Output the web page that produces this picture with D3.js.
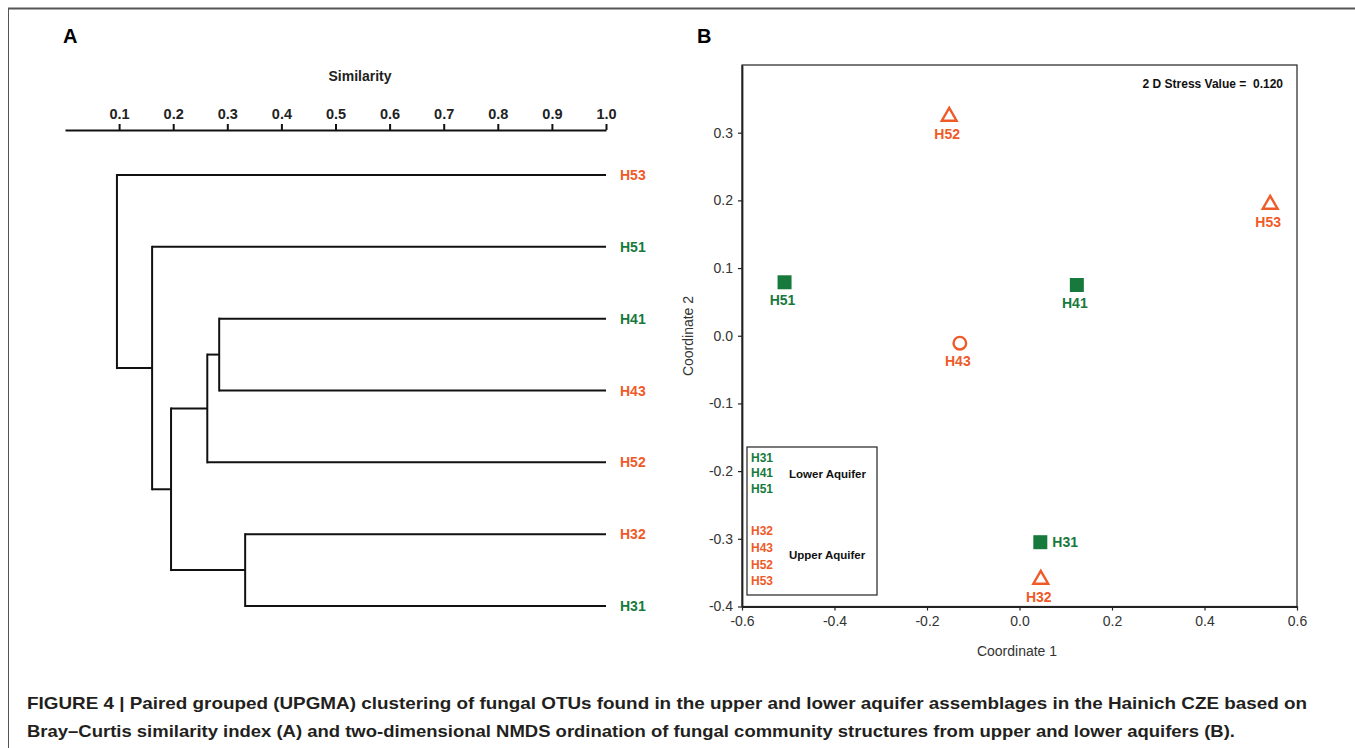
<!DOCTYPE html>
<html>
<head>
<meta charset="utf-8">
<script src="https://cdn.jsdelivr.net/npm/d3@7"></script>
<style>
  body { margin: 0; background: #fff; }
  text { font-family: "Liberation Sans", Arial, sans-serif; }
</style>
</head>
<body>
<div id="chart"></div>
<script>
// ---- data ----
// dendrogram (panel A): leaves top to bottom, and merge nodes
const leafNames = ['H53', 'H51', 'H41', 'H43', 'H52', 'H32', 'H31'];
const nodeNames = ['n1', 'n2', 'n3', 'n4', 'n5', 'n6'];
const nodeChildren = [
    ['H53', 'n2'],
    ['H51', 'n3'],
    ['n4', 'n6'],
    ['n5', 'H52'],
    ['H41', 'H43'],
    ['H32', 'H31']
];
const nodeSimilarity = [0.096, 0.161, 0.196, 0.263, 0.285, 0.333];
const simTicks = [0.1, 0.2, 0.3, 0.4, 0.5, 0.6, 0.7, 0.8, 0.9, 1.0];
const simTickLabels = ['0.1', '0.2', '0.3', '0.4', '0.5', '0.6', '0.7', '0.8', '0.9', '1.0'];

// aquifer membership
const lowerAquifer = ['H31', 'H41', 'H51'];
const upperAquifer = ['H32', 'H43', 'H52', 'H53'];

// NMDS (panel B)
const nmdsNames = ['H52', 'H53', 'H51', 'H41', 'H43', 'H31', 'H32'];
const nmdsX = [-0.152, 0.542, -0.508, 0.124, -0.129, 0.045, 0.046];
const nmdsY = [0.324, 0.194, 0.079, 0.075, -0.011, -0.305, -0.360];
const nmdsShape = ['triangle', 'triangle', 'square', 'square', 'circle', 'square', 'triangle'];
const nmdsLabelSide = ['below', 'below', 'below', 'below', 'below', 'right', 'below'];
const xTicks = [-0.6, -0.4, -0.2, 0.0, 0.2, 0.4, 0.6];
const xTickLabels = ['-0.6', '-0.4', '-0.2', '0.0', '0.2', '0.4', '0.6'];
const yTicks = [-0.4, -0.3, -0.2, -0.1, 0.0, 0.1, 0.2, 0.3];
const yTickLabels = ['-0.4', '-0.3', '-0.2', '-0.1', '0.0', '0.1', '0.2', '0.3'];
const stressValue = '0.120';

const orange = '#ef5a29';
const green = '#18793d';
const colorOf = name => lowerAquifer.includes(name) ? green : orange;

const width = 1355;
const height = 748;

const svg = d3.select('#chart')
    .append('svg')
    .attr('width', width)
    .attr('height', height);

// outer frame (top + left edge only)
svg.append('line')
    .attr('x1', 8).attr('x2', width)
    .attr('y1', 8.5).attr('y2', 8.5)
    .attr('stroke', '#555').attr('stroke-width', 2);
svg.append('line')
    .attr('x1', 8.5).attr('x2', 8.5)
    .attr('y1', 8).attr('y2', height)
    .attr('stroke', '#555').attr('stroke-width', 1);

// panel letters
svg.append('text').text('A')
    .attr('x', 63).attr('y', 43)
    .attr('font-size', 20).attr('font-weight', 'bold');
svg.append('text').text('B')
    .attr('x', 697).attr('y', 43)
    .attr('font-size', 20).attr('font-weight', 'bold');

// ---------------- Panel A: dendrogram ----------------
const sim_scale = d3.scaleLinear()
    .domain([0, 1])
    .range([65, 606]);

const axisA = svg.append('g')
    .attr('transform', 'translate(0,130)')
    .call(d3.axisTop(sim_scale)
        .tickValues(simTicks)
        .tickFormat((d, i) => simTickLabels[i])
        .tickSize(6)
        .tickSizeOuter(0)
        .tickPadding(5));
axisA.select('.domain').attr('stroke', '#111').attr('stroke-width', 2);
axisA.selectAll('.tick line').attr('stroke', '#111').attr('stroke-width', 2);
axisA.selectAll('.tick text')
    .attr('font-size', 14.5)
    .attr('font-weight', 'bold')
    .attr('fill', '#222')
    .attr('font-family', '"Liberation Sans", Arial, sans-serif');

svg.append('text').text('Similarity')
    .attr('x', 360).attr('y', 81)
    .attr('text-anchor', 'middle')
    .attr('font-size', 14).attr('font-weight', 'bold').attr('fill', '#222');

// build tree
function buildNode(name) {
    const i = nodeNames.indexOf(name);
    if (i < 0) return { name: name, sim: 1.0 };
    return { name: name, sim: nodeSimilarity[i], children: nodeChildren[i].map(buildNode) };
}
const root = d3.hierarchy(buildNode('n1'));
d3.cluster()
    .nodeSize([1, 1])
    .separation(() => 1)(root);

// stretch leaf spacing so first leaf sits at y=175 and last at y=606
const leafExtent = d3.extent(root.leaves(), d => d.x);
const row_scale = d3.scaleLinear().domain(leafExtent).range([175, 606]);
const leaf_y = d => row_scale(d.x);

const links = svg.append('g')
    .attr('fill', 'none')
    .attr('stroke', '#111')
    .attr('stroke-width', 2);

root.descendants().filter(d => d.children).forEach(d => {
    const px = sim_scale(d.data.sim);
    // vertical connector
    links.append('line')
        .attr('x1', px).attr('x2', px)
        .attr('y1', leaf_y(d.children[0])).attr('y2', leaf_y(d.children[d.children.length - 1]))
        .attr('stroke-linecap', 'square');
    // horizontal branches to children
    d.children.forEach(c => {
        links.append('line')
            .attr('x1', px).attr('x2', sim_scale(c.data.sim))
            .attr('y1', leaf_y(c)).attr('y2', leaf_y(c));
    });
});

svg.selectAll('.leaf-label')
    .data(root.leaves())
    .enter()
    .append('text')
    .attr('class', 'leaf-label')
    .text(d => d.data.name)
    .attr('x', 620)
    .attr('y', d => leaf_y(d) + 5)
    .attr('font-size', 14)
    .attr('font-weight', 'bold')
    .attr('fill', d => colorOf(d.data.name));

// ---------------- Panel B: NMDS ----------------
const x_scale = d3.scaleLinear().domain([-0.6, 0.6]).range([742, 1297]);
const y_scale = d3.scaleLinear().domain([-0.4, 0.4]).range([606.5, 65]);

// frame
svg.append('rect')
    .attr('x', 742).attr('y', 65)
    .attr('width', 1297 - 742).attr('height', 606.5 - 65)
    .attr('fill', 'none').attr('stroke', '#222').attr('stroke-width', 1.2);

const xAxis = svg.append('g')
    .attr('transform', 'translate(0,606.5)')
    .call(d3.axisBottom(x_scale)
        .tickValues(xTicks)
        .tickFormat((d, i) => xTickLabels[i])
        .tickSize(4)
        .tickSizeOuter(0)
        .tickPadding(6));
const yAxis = svg.append('g')
    .attr('transform', 'translate(742,0)')
    .call(d3.axisLeft(y_scale)
        .tickValues(yTicks)
        .tickFormat((d, i) => yTickLabels[i])
        .tickSize(4)
        .tickSizeOuter(0)
        .tickPadding(5));
[xAxis, yAxis].forEach(ax => {
    ax.select('.domain').attr('stroke', '#222').attr('stroke-width', 1.8);
    ax.selectAll('.tick line').attr('stroke', '#222').attr('stroke-width', 1.2);
    ax.selectAll('.tick text')
        .attr('font-size', 14)
        .attr('fill', '#333')
        .attr('font-family', '"Liberation Sans", Arial, sans-serif');
});

svg.append('text').text('Coordinate 1')
    .attr('x', 1017).attr('y', 656)
    .attr('text-anchor', 'middle')
    .attr('font-size', 14).attr('fill', '#333');
svg.append('text').text('Coordinate 2')
    .attr('transform', 'translate(693,336) rotate(-90)')
    .attr('text-anchor', 'middle')
    .attr('font-size', 14).attr('fill', '#333');

svg.append('text').text('2 D Stress Value =  ' + stressValue)
    .attr('x', 1283).attr('y', 88)
    .attr('text-anchor', 'end')
    .attr('xml:space', 'preserve')
    .attr('font-size', 12).attr('font-weight', 'bold').attr('fill', '#111');

const points = nmdsNames.map((n, i) => ({
    name: n, x: nmdsX[i], y: nmdsY[i], shape: nmdsShape[i], side: nmdsLabelSide[i]
}));

const symbolFor = {
    square: d3.symbol().type(d3.symbolSquare).size(196),
    triangle: d3.symbol().type(d3.symbolTriangle).size(95),
    circle: d3.symbol().type(d3.symbolCircle).size(Math.PI * 6.3 * 6.3)
};

svg.selectAll('.pt')
    .data(points)
    .enter()
    .append('path')
    .attr('class', 'pt')
    .attr('d', d => symbolFor[d.shape]())
    .attr('transform', d => 'translate(' + x_scale(d.x) + ',' + y_scale(d.y) + ')')
    .attr('fill', d => d.shape === 'square' ? colorOf(d.name) : 'none')
    .attr('stroke', d => d.shape === 'square' ? 'none' : colorOf(d.name))
    .attr('stroke-width', 2.4);

svg.selectAll('.pt-label')
    .data(points)
    .enter()
    .append('text')
    .attr('class', 'pt-label')
    .text(d => d.name)
    .attr('x', d => d.side === 'right' ? x_scale(d.x) + 12 : x_scale(d.x) - 2)
    .attr('y', d => d.side === 'right' ? y_scale(d.y) + 5 : y_scale(d.y) + 23)
    .attr('text-anchor', d => d.side === 'right' ? 'start' : 'middle')
    .attr('font-size', 14)
    .attr('font-weight', 'bold')
    .attr('fill', d => colorOf(d.name));

// legend box
svg.append('rect')
    .attr('x', 747).attr('y', 447)
    .attr('width', 130).attr('height', 148)
    .attr('fill', '#fff').attr('stroke', '#222').attr('stroke-width', 1.2);

const legendLowerY = [457, 472, 488];
const legendUpperY = [530, 547, 564, 580];
svg.selectAll('.lg-lower')
    .data(lowerAquifer)
    .enter()
    .append('text')
    .text(d => d)
    .attr('x', 751).attr('y', (d, i) => legendLowerY[i] + 4.5)
    .attr('font-size', 12).attr('font-weight', 'bold').attr('fill', green);
svg.selectAll('.lg-upper')
    .data(upperAquifer)
    .enter()
    .append('text')
    .text(d => d)
    .attr('x', 751).attr('y', (d, i) => legendUpperY[i] + 4.5)
    .attr('font-size', 12).attr('font-weight', 'bold').attr('fill', orange);
svg.append('text').text('Lower Aquifer')
    .attr('x', 789).attr('y', 478)
    .attr('font-size', 11.5).attr('font-weight', 'bold').attr('fill', '#111');
svg.append('text').text('Upper Aquifer')
    .attr('x', 789).attr('y', 559)
    .attr('font-size', 11.5).attr('font-weight', 'bold').attr('fill', '#111');

// ---------------- caption ----------------
svg.append('text')
    .text('FIGURE 4 | Paired grouped (UPGMA) clustering of fungal OTUs found in the upper and lower aquifer assemblages in the Hainich CZE based on')
    .attr('x', 27).attr('y', 709)
    .attr('textLength', 1280).attr('lengthAdjust', 'spacingAndGlyphs')
    .attr('font-size', 17).attr('font-weight', 'bold').attr('fill', '#231f20');
svg.append('text')
    .text('Bray\u2013Curtis similarity index (A) and two-dimensional NMDS ordination of fungal community structures from upper and lower aquifers (B).')
    .attr('x', 27).attr('y', 737)
    .attr('textLength', 1208).attr('lengthAdjust', 'spacingAndGlyphs')
    .attr('font-size', 17).attr('font-weight', 'bold').attr('fill', '#231f20');
</script>
</body>
</html>
